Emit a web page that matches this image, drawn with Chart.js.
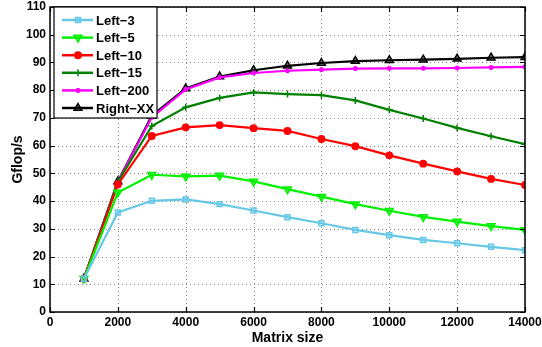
<!DOCTYPE html>
<html>
<head>
<meta charset="utf-8">
<script src="https://cdn.jsdelivr.net/npm/chart.js@4/dist/chart.umd.min.js"></script>
<style>
  html, body { margin: 0; padding: 0; background: #fff; }
  #c { display: block; }
</style>
</head>
<body>
<canvas id="c" width="542" height="347"></canvas>
<script>
// matrix sizes (x) and Gflop/s per variant
const sizes    = [1000, 2000, 3000, 4000, 5000, 6000, 7000, 8000, 9000, 10000, 11000, 12000, 13000, 14000];
const left3    = [12.0, 35.9, 40.1, 40.6, 38.9, 36.6, 34.2, 32.0, 29.6, 27.7, 26.0, 24.8, 23.5, 22.3];
const left5    = [12.0, 43.1, 49.5, 48.9, 49.2, 47.1, 44.3, 41.6, 38.9, 36.5, 34.3, 32.6, 31.0, 29.6];
const left10   = [12.0, 46.0, 63.5, 66.6, 67.4, 66.3, 65.3, 62.4, 59.8, 56.5, 53.5, 50.7, 48.0, 45.8];
const left15   = [12.0, 47.0, 67.1, 73.8, 77.2, 79.2, 78.6, 78.2, 76.3, 72.9, 69.8, 66.4, 63.4, 60.5];
const left200  = [12.0, 47.0, 70.2, 80.3, 84.6, 86.2, 87.0, 87.4, 87.8, 87.9, 87.9, 88.0, 88.2, 88.4];
const rightXX  = [12.0, 47.1, 70.8, 80.6, 84.9, 87.2, 88.8, 89.8, 90.5, 90.8, 91.0, 91.3, 91.7, 91.9];

const xTicks = [0, 2000, 4000, 6000, 8000, 10000, 12000, 14000];
const yTicks = [0, 10, 20, 30, 40, 50, 60, 70, 80, 90, 100, 110];

const FONT = '"Liberation Sans", Arial, sans-serif';

function pts(arr) {
  return arr.map((v, i) => ({ x: sizes[i], y: v }));
}

const series = [
  { label: 'Left\u22123',   data: left3,   color: '#66C8E6', fill: 'rgba(102,200,230,0.35)', style: 'rect',     r: 3.5, rot: 0 },
  { label: 'Left\u22125',   data: left5,   color: '#00F000', fill: 'rgba(0,240,0,0.6)',      style: 'triangle', r: 4.5, rot: 180 },
  { label: 'Left\u221210',  data: left10,  color: '#FF0000', fill: '#FF0000',                style: 'circle',   r: 3.2, rot: 0 },
  { label: 'Left\u221215',  data: left15,  color: '#008000', fill: '#008000',                style: 'cross',    r: 3.5, rot: 0 },
  { label: 'Left\u2212200', data: left200, color: '#FF00FF', fill: '#FF00FF',                style: 'star',     r: 2.5, rot: 0 },
  { label: 'Right\u2212XX', data: rightXX, color: '#000000', fill: 'rgba(0,0,0,0.45)',       style: 'triangle', r: 4.5, rot: 0 }
];

// dotted grid under the data
const dottedGrid = {
  id: 'dottedGrid',
  beforeDatasetsDraw(chart) {
    const { ctx, chartArea: a, scales } = chart;
    ctx.save();
    ctx.strokeStyle = '#888';
    ctx.lineWidth = 1;
    ctx.setLineDash([1, 3]);
    ctx.beginPath();
    xTicks.forEach(t => {
      const px = Math.round(scales.x.getPixelForValue(t)) + 0.5;
      ctx.moveTo(px, a.top); ctx.lineTo(px, a.bottom);
    });
    yTicks.forEach(t => {
      const py = Math.round(scales.y.getPixelForValue(t)) + 0.5;
      ctx.moveTo(a.left, py); ctx.lineTo(a.right, py);
    });
    ctx.stroke();
    ctx.restore();
  }
};

// frame box + inward ticks, like the matlab axes
const frameTicks = {
  id: 'frameTicks',
  afterDraw(chart) {
    const { ctx, chartArea: a, scales } = chart;
    ctx.save();
    ctx.strokeStyle = '#000';
    ctx.lineWidth = 1.2;
    ctx.beginPath();
    xTicks.forEach(t => {
      const px = Math.round(scales.x.getPixelForValue(t)) + 0.5;
      ctx.moveTo(px, a.bottom); ctx.lineTo(px, a.bottom - 5);
      ctx.moveTo(px, a.top);    ctx.lineTo(px, a.top + 5);
    });
    yTicks.forEach(t => {
      const py = Math.round(scales.y.getPixelForValue(t)) + 0.5;
      ctx.moveTo(a.left, py);  ctx.lineTo(a.left + 5, py);
      ctx.moveTo(a.right, py); ctx.lineTo(a.right - 5, py);
    });
    ctx.stroke();
    ctx.lineWidth = 1.5;
    ctx.strokeRect(a.left, a.top, a.right - a.left, a.bottom - a.top);
    ctx.restore();
  }
};

// legend box drawn inside the plot, top-left
const insideLegend = {
  id: 'insideLegend',
  afterDraw(chart) {
    const { ctx, chartArea: a } = chart;
    const bx = a.left + 4, by = a.top, bw = 103, bh = 111;
    ctx.save();
    ctx.fillStyle = '#fff';
    ctx.fillRect(bx, by, bw, bh);
    ctx.strokeStyle = '#000';
    ctx.lineWidth = 1.2;
    ctx.strokeRect(bx, by, bw, bh);
    ctx.font = 'bold 13px ' + FONT;
    ctx.textBaseline = 'middle';
    series.forEach((s, i) => {
      const y = by + 13 + i * 17.6;
      ctx.strokeStyle = s.color;
      ctx.lineWidth = 2.5;
      ctx.beginPath();
      ctx.moveTo(bx + 8, y); ctx.lineTo(bx + 39, y);
      ctx.stroke();
      ctx.lineWidth = 1.5;
      ctx.fillStyle = s.fill;
      ctx.strokeStyle = s.color;
      Chart.helpers.drawPoint(ctx, { pointStyle: s.style, radius: s.r, rotation: s.rot, borderWidth: 1.5 }, bx + 24, y);
      ctx.fillStyle = '#000';
      ctx.fillText(s.label, bx + 42, y + 1);
    });
    ctx.restore();
  }
};

new Chart(document.getElementById('c'), {
  type: 'line',
  data: {
    datasets: series.map(s => ({
      label: s.label,
      data: pts(s.data),
      borderColor: s.color,
      backgroundColor: s.fill,
      borderWidth: 2.2,
      pointStyle: s.style,
      pointRadius: s.r,
      pointRotation: s.rot,
      pointBorderWidth: 1.5,
      pointBorderColor: s.color,
      pointBackgroundColor: s.fill,
      tension: 0
    }))
  },
  options: {
    responsive: false,
    animation: false,
    layout: { padding: { top: 0, right: 0, left: 10, bottom: 0 } },
    plugins: {
      legend: { display: false },
      tooltip: { enabled: false }
    },
    scales: {
      x: {
        type: 'linear',
        min: 0, max: 14000,
        afterBuildTicks: sc => { sc.ticks = xTicks.map(v => ({ value: v })); },
        afterFit: sc => { sc.height = 35; sc.paddingRight = 17; },
        grid: { display: false, drawTicks: false },
        border: { display: false },
        ticks: { color: '#000', font: { family: FONT, weight: 'bold', size: 12 }, padding: 3, maxRotation: 0, callback: v => String(v) },
        title: { display: true, text: 'Matrix size', color: '#000', font: { family: FONT, weight: 'bold', size: 14 }, padding: { top: 0, bottom: 0 } }
      },
      y: {
        min: 0, max: 110,
        afterBuildTicks: sc => { sc.ticks = yTicks.map(v => ({ value: v })); },
        afterFit: sc => { sc.width = 40; sc.paddingTop = 7; },
        grid: { display: false, drawTicks: false },
        border: { display: false },
        ticks: { color: '#000', font: { family: FONT, weight: 'bold', size: 12 }, padding: 4, callback: v => String(v) },
        title: { display: true, text: 'Gflop/s', color: '#000', font: { family: FONT, weight: 'bold', size: 14 }, padding: { top: 0, bottom: 4 } }
      }
    }
  },
  plugins: [dottedGrid, frameTicks, insideLegend]
});
</script>
</body>
</html>
